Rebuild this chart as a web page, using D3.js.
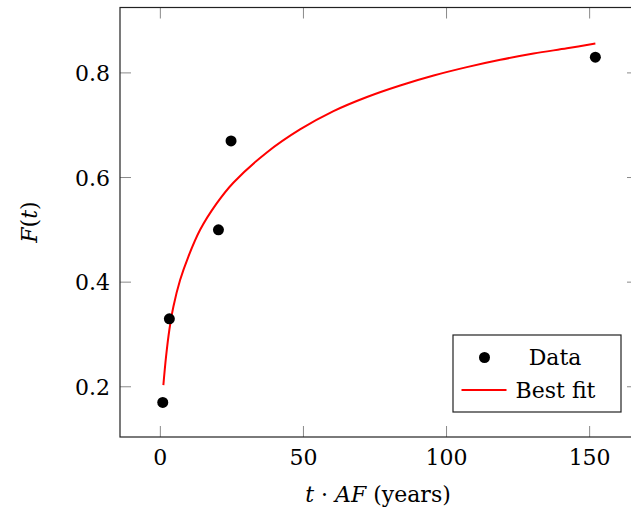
<!DOCTYPE html>
<html>
<head>
<meta charset="utf-8">
<script src="https://cdn.jsdelivr.net/npm/d3@7"></script>
<style>
  html, body { margin: 0; padding: 0; background: #fff; }
  svg { display: block; }
  text { font-family: "DejaVu Serif", "Liberation Serif", serif; fill: #000; }
</style>
</head>
<body>
<svg id="chart" width="631" height="520"></svg>
<script>
// Observed failure fractions
const dataT = [0.84, 3.15, 20.3, 24.7, 152.0];
const dataF = [0.17, 0.33, 0.50, 0.67, 0.83];

// Fitted distribution curve, sampled along t
const fitT = [1.05, 2.0, 3.15, 4.55, 6.9, 9.8, 13.9, 19.5, 25.5, 37.2, 48.8, 60.5, 72.2, 83.8, 95.5, 107.1, 118.8, 130.4, 142.1, 152.0];
const fitF = [0.203, 0.258, 0.309, 0.353, 0.404, 0.449, 0.500, 0.549, 0.590, 0.648, 0.692, 0.727, 0.754, 0.776, 0.795, 0.811, 0.825, 0.837, 0.847, 0.856];

// Axis ticks
const xTicks = [0, 50, 100, 150];
const yTicks = [0.2, 0.4, 0.6, 0.8];

const svg = d3.select("#chart");
const plotL = 120, plotR = 638, plotT = 7.5, plotB = 437;

const x = d3.scaleLinear().domain([-14.1, 166.9]).range([plotL, plotR]);
const y = d3.scaleLinear().domain([0.104, 0.925]).range([plotB, plotT]);

const tickLen = 11;
const tickColor = "#8a8a8a";
const fs = 22;

// Inward ticks on all four sides
const g = svg.append("g");
g.selectAll("line.xb").data(xTicks).join("line")
  .attr("class", "xb")
  .attr("x1", d => x(d)).attr("x2", d => x(d))
  .attr("y1", plotB).attr("y2", plotB - tickLen)
  .attr("stroke", tickColor).attr("stroke-width", 1);
g.selectAll("line.xt").data(xTicks).join("line")
  .attr("class", "xt")
  .attr("x1", d => x(d)).attr("x2", d => x(d))
  .attr("y1", plotT).attr("y2", plotT + tickLen)
  .attr("stroke", tickColor).attr("stroke-width", 1);
g.selectAll("line.yl").data(yTicks).join("line")
  .attr("class", "yl")
  .attr("x1", plotL).attr("x2", plotL + tickLen)
  .attr("y1", d => y(d)).attr("y2", d => y(d))
  .attr("stroke", tickColor).attr("stroke-width", 1);
g.selectAll("line.yr").data(yTicks).join("line")
  .attr("class", "yr")
  .attr("x1", plotR).attr("x2", plotR - tickLen)
  .attr("y1", d => y(d)).attr("y2", d => y(d))
  .attr("stroke", tickColor).attr("stroke-width", 1);

// Tick labels
svg.selectAll("text.xl").data(xTicks).join("text")
  .attr("class", "xl")
  .attr("x", d => x(d)).attr("y", 465)
  .attr("text-anchor", "middle")
  .attr("font-size", fs)
  .text(d => d3.format("d")(d));
svg.selectAll("text.ylab").data(yTicks).join("text")
  .attr("class", "ylab")
  .attr("x", 110).attr("y", d => y(d) + 8)
  .attr("text-anchor", "end")
  .attr("font-size", fs)
  .text(d => d3.format(".1f")(d));

// Fitted curve
const fitPts = fitT.map((t, i) => [t, fitF[i]]);
const line = d3.line().x(d => x(d[0])).y(d => y(d[1])).curve(d3.curveCatmullRom.alpha(0.5));
svg.append("path")
  .attr("d", line(fitPts))
  .attr("fill", "none")
  .attr("stroke", "#ff0000")
  .attr("stroke-width", 2);

// Data markers
svg.selectAll("circle.pt").data(dataT.map((t, i) => [t, dataF[i]])).join("circle")
  .attr("class", "pt")
  .attr("cx", d => x(d[0])).attr("cy", d => y(d[1]))
  .attr("r", 5.5)
  .attr("fill", "#000");

// Frame
svg.append("rect")
  .attr("x", plotL).attr("y", plotT)
  .attr("width", plotR - plotL).attr("height", plotB - plotT)
  .attr("fill", "none").attr("stroke", "#222").attr("stroke-width", 1.2);

// Legend
const lg = svg.append("g");
lg.append("rect")
  .attr("x", 453).attr("y", 335).attr("width", 168).attr("height", 77)
  .attr("fill", "#fff").attr("stroke", "#222").attr("stroke-width", 1.2);
lg.append("circle").attr("cx", 484.5).attr("cy", 357.5).attr("r", 5.5).attr("fill", "#000");
lg.append("text").attr("x", 555).attr("y", 364.5).attr("font-size", fs)
  .attr("text-anchor", "middle").text("Data");
lg.append("line").attr("x1", 461.5).attr("x2", 506.5).attr("y1", 390).attr("y2", 390)
  .attr("stroke", "#ff0000").attr("stroke-width", 2);
lg.append("text").attr("x", 555.5).attr("y", 397.5).attr("font-size", fs)
  .attr("text-anchor", "middle").text("Best fit");

// Axis titles
const xt = svg.append("text")
  .attr("x", 378).attr("y", 502)
  .attr("text-anchor", "middle")
  .attr("font-size", fs);
xt.append("tspan").attr("font-style", "italic").text("t");
xt.append("tspan").text(" · ");
xt.append("tspan").attr("font-style", "italic").text("AF");
xt.append("tspan").text(" (years)");

const yt = svg.append("text")
  .attr("transform", "translate(37,222) rotate(-90)")
  .attr("text-anchor", "middle")
  .attr("font-size", fs);
yt.append("tspan").attr("font-style", "italic").text("F");
yt.append("tspan").text("(");
yt.append("tspan").attr("font-style", "italic").text("t");
yt.append("tspan").text(")");
</script>
</body>
</html>
